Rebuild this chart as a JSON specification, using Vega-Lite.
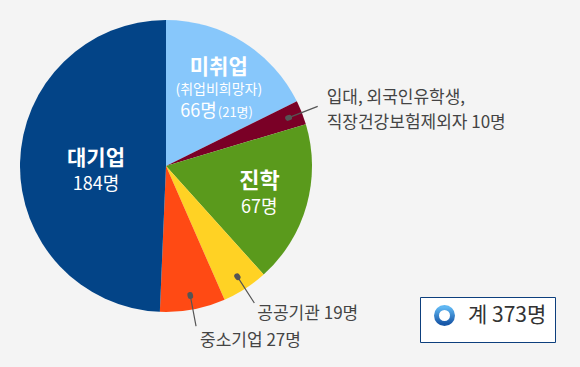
{
  "$schema": "https://vega.github.io/schema/vega-lite/v6.json",
  "width": 332,
  "height": 332,
  "autosize": {"type": "none"},
  "padding": {"left": 0, "top": 0, "right": 248, "bottom": 35},
  "background": "#f4f4f4",
  "config": {
    "view": {"stroke": null},
    "text": {"font": "Noto Sans CJK KR"},
    "legend": {"labelFont": "Noto Sans CJK KR"}
  },
  "data": {
    "values": [
      {"k": 1, "cat": "미취업", "value": 66, "t1": "미취업", "t2": "(취업비희망자)", "t3": "66명", "t4": "(21명)"},
      {"k": 2, "cat": "입대, 외국인유학생, 직장건강보험제외자", "value": 10, "t1": "입대, 외국인유학생,", "t2": "직장건강보험제외자 10명"},
      {"k": 3, "cat": "진학", "value": 67, "t1": "진학", "t2": "67명"},
      {"k": 4, "cat": "공공기관", "value": 19, "t1": "공공기관 19명"},
      {"k": 5, "cat": "중소기업", "value": 27, "t1": "중소기업 27명"},
      {"k": 6, "cat": "대기업", "value": 184, "t1": "대기업", "t2": "184명"}
    ]
  },
  "encoding": {
    "theta": {"field": "value", "type": "quantitative", "stack": true},
    "order": {"field": "k", "type": "quantitative"},
    "detail": {"field": "cat", "type": "nominal"}
  },
  "layer": [
    {
      "mark": {"type": "arc", "outerRadius": 146, "innerRadius": 0},
      "encoding": {
        "color": {
          "field": "cat", "type": "nominal", "legend": null,
          "scale": {
            "domain": ["미취업", "입대, 외국인유학생, 직장건강보험제외자", "진학", "공공기관", "중소기업", "대기업"],
            "range": ["#87c7fb", "#7a0026", "#5a9a1c", "#ffd224", "#ff4a14", "#034487"]
          }
        }
      }
    },
    {
      "mark": {"type": "text", "radius": 100, "dy": -13, "fontSize": 21, "fontWeight": "bold", "color": "#ffffff", "baseline": "middle"},
      "encoding": {"text": {"condition": {"test": "datum.k === 1", "field": "t1", "type": "nominal"}, "value": ""}}
    },
    {
      "mark": {"type": "text", "radius": 100, "dy": 9, "fontSize": 14, "color": "#ffffff", "baseline": "middle"},
      "encoding": {"text": {"condition": {"test": "datum.k === 1", "field": "t2", "type": "nominal"}, "value": ""}}
    },
    {
      "mark": {"type": "text", "radius": 100, "dx": -2, "dy": 36, "fontSize": 18, "color": "#ffffff", "align": "right", "baseline": "alphabetic"},
      "encoding": {"text": {"condition": {"test": "datum.k === 1", "field": "t3", "type": "nominal"}, "value": ""}}
    },
    {
      "mark": {"type": "text", "radius": 100, "dx": -1, "dy": 36, "fontSize": 13, "color": "#ffffff", "align": "left", "baseline": "alphabetic"},
      "encoding": {"text": {"condition": {"test": "datum.k === 1", "field": "t4", "type": "nominal"}, "value": ""}}
    },
    {
      "mark": {"type": "text", "radius": 70, "dy": -6, "fontSize": 21, "fontWeight": "bold", "color": "#ffffff", "baseline": "middle"},
      "encoding": {"text": {"condition": {"test": "datum.k === 6", "field": "t1", "type": "nominal"}, "value": ""}}
    },
    {
      "mark": {"type": "text", "radius": 70, "dy": 20, "fontSize": 18, "color": "#ffffff", "baseline": "middle"},
      "encoding": {"text": {"condition": {"test": "datum.k === 6", "field": "t2", "type": "nominal"}, "value": ""}}
    },
    {
      "mark": {"type": "text", "radius": 97, "dy": -11, "fontSize": 22, "fontWeight": "bold", "color": "#ffffff", "baseline": "middle"},
      "encoding": {"text": {"condition": {"test": "datum.k === 3", "field": "t1", "type": "nominal"}, "value": ""}}
    },
    {
      "mark": {"type": "text", "radius": 97, "dy": 16, "fontSize": 18, "color": "#ffffff", "baseline": "middle"},
      "encoding": {"text": {"condition": {"test": "datum.k === 3", "field": "t2", "type": "nominal"}, "value": ""}}
    },
    {
      "mark": {"type": "arc", "outerRadius": 163, "innerRadius": 132, "padAngle": 3, "fill": "transparent", "stroke": "#555555", "strokeWidth": 1.2},
      "encoding": {"opacity": {"condition": {"test": "datum.k === 2 || datum.k === 4 || datum.k === 5", "value": 1}, "value": 0}}
    },
    {
      "mark": {"type": "arc", "outerRadius": 132.5, "innerRadius": 131, "padAngle": 3, "fill": "transparent", "stroke": "#555555", "strokeWidth": 5.5, "strokeCap": "round", "strokeJoin": "round"},
      "encoding": {"opacity": {"condition": {"test": "datum.k === 2 || datum.k === 4 || datum.k === 5", "value": 1}, "value": 0}}
    },
    {
      "mark": {"type": "text", "radius": 163, "dx": 9, "dy": -8, "fontSize": 17, "color": "#444444", "align": "left", "baseline": "middle"},
      "encoding": {"text": {"condition": {"test": "datum.k === 2", "field": "t1", "type": "nominal"}, "value": ""}}
    },
    {
      "mark": {"type": "text", "radius": 163, "dx": 9, "dy": 17, "fontSize": 17, "color": "#444444", "align": "left", "baseline": "middle"},
      "encoding": {"text": {"condition": {"test": "datum.k === 2", "field": "t2", "type": "nominal"}, "value": ""}}
    },
    {
      "mark": {"type": "text", "radius": 163, "dx": 3, "dy": 11, "fontSize": 17, "color": "#444444", "align": "left", "baseline": "middle"},
      "encoding": {"text": {"condition": {"test": "datum.k === 4", "field": "t1", "type": "nominal"}, "value": ""}}
    },
    {
      "mark": {"type": "text", "radius": 163, "dx": 4, "dy": 15, "fontSize": 17, "color": "#444444", "align": "left", "baseline": "middle"},
      "encoding": {"text": {"condition": {"test": "datum.k === 5", "field": "t1", "type": "nominal"}, "value": ""}}
    },
    {
      "data": {"values": [{"total": "계 373명"}]},
      "mark": {
        "type": "point", "opacity": 0, "filled": false, "strokeWidth": 5,
        "color": {"gradient": "linear", "x1": 0, "y1": 0, "x2": 0, "y2": 1, "stops": [{"offset": 0, "color": "#5fb6f2"}, {"offset": 1, "color": "#1858a8"}]}
      },
      "encoding": {
        "theta": null, "order": null, "detail": null,
        "shape": {
          "field": "total", "type": "nominal", "scale": {"range": ["circle"]},
          "legend": {
            "title": null, "orient": "none", "legendX": 420, "legendY": 297,
            "fillColor": "#ffffff", "strokeColor": "#0d3f7d", "padding": 8,
            "symbolSize": 256, "symbolStrokeWidth": 5, "symbolOpacity": 1, "symbolOffset": 6,
            "labelFontSize": 21, "labelColor": "#333333", "labelOffset": 13,
            "encode": {"legend": {"update": {"strokeWidth": {"value": 2}}}}
          }
        }
      }
    }
  ]
}
